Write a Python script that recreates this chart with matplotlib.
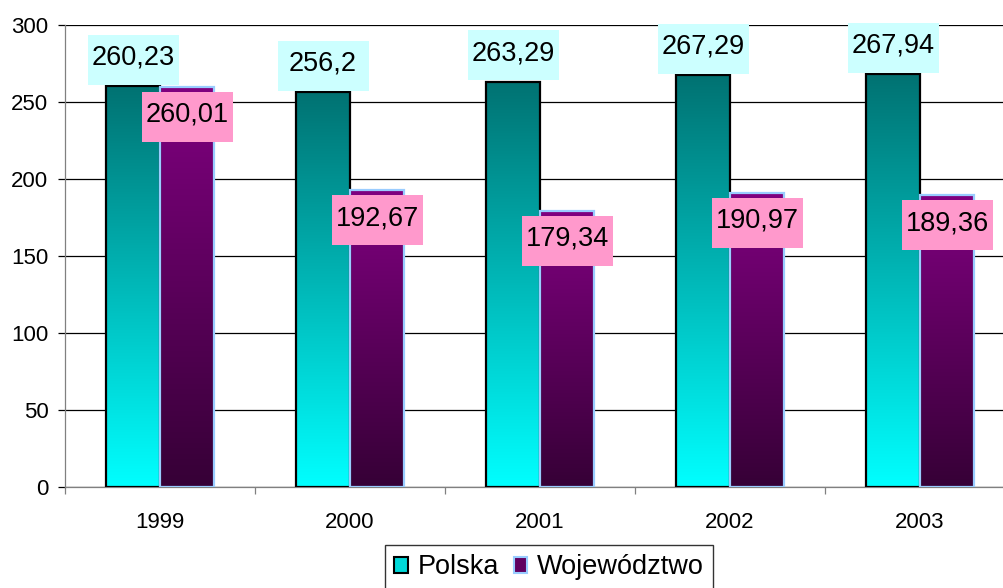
import numpy as np
import matplotlib.pyplot as plt
from matplotlib.colors import LinearSegmentedColormap
from matplotlib.patches import Rectangle, Patch

plt.rcParams['font.family'] = ['Liberation Sans', 'DejaVu Sans']

years = ['1999', '2000', '2001', '2002', '2003']
polska = [260.23, 256.2, 263.29, 267.29, 267.94]
wojewodztwo = [260.01, 192.67, 179.34, 190.97, 189.36]
polska_labels = ['260,23', '256,2', '263,29', '267,29', '267,94']
woj_labels = ['260,01', '192,67', '179,34', '190,97', '189,36']

W, H, DPI = 1004, 588, 100
fig = plt.figure(figsize=(W / DPI, H / DPI), dpi=DPI)
# plot area runs a bit past the right edge of the figure
left, right, top, bottom = 65, 1015, 25, 487
ax = fig.add_axes([left / W, 1 - bottom / H, (right - left) / W, (bottom - top) / H])

ymax = 300
ax.set_xlim(-0.5, len(years) - 0.5)
ax.set_ylim(0, ymax)

# pixel size of one data unit, used for the label boxes
px_x = (right - left) / len(years)
px_y = (bottom - top) / ymax

bar_w = 54 / px_x

cmap_pl = LinearSegmentedColormap.from_list('pl', ['#00ffff', '#007272'])
cmap_woj = LinearSegmentedColormap.from_list('woj', ['#360036', '#800080'])
grad = np.linspace(0, 1, 256).reshape(-1, 1)

def gradient_bar(x0, h, cmap, edge, lw):
    ax.imshow(grad, extent=[x0, x0 + bar_w, 0, h], origin='lower', cmap=cmap,
              aspect='auto', zorder=2, interpolation='bilinear')
    ax.add_patch(Rectangle((x0, 0), bar_w, h, fill=False, edgecolor=edge,
                           linewidth=lw, zorder=3))

for i in range(len(years)):
    gradient_bar(i - bar_w, polska[i], cmap_pl, 'black', 1.6)
    gradient_bar(i, wojewodztwo[i], cmap_woj, '#99ccff', 1.6)

# value labels in filled boxes
box_w, box_h = 91 / px_x, 50 / px_y
for i in range(len(years)):
    cx = i - bar_w / 2
    y0 = polska[i] + 1.5 / px_y
    ax.add_patch(Rectangle((cx - box_w / 2, y0), box_w, box_h, facecolor='#ccffff',
                           edgecolor='none', zorder=5, clip_on=False))
    ax.text(cx, y0 + box_h / 2 + 2 / px_y, polska_labels[i], ha='center', va='center',
            fontsize=19.5, zorder=6)

    cx = i + bar_w / 2
    y1 = wojewodztwo[i] - 5 / px_y
    ax.add_patch(Rectangle((cx - box_w / 2, y1 - box_h), box_w, box_h, facecolor='#ff99cc',
                           edgecolor='none', zorder=5, clip_on=False))
    ax.text(cx, y1 - box_h / 2 + 2 / px_y, woj_labels[i], ha='center', va='center',
            fontsize=19.5, zorder=6)

# axes styling
ax.set_yticks(np.arange(0, ymax + 1, 50))
ax.yaxis.grid(True, color='black', linewidth=0.9)
ax.set_axisbelow(True)
ax.tick_params(axis='y', length=5, width=0.9, color='black', pad=7, labelsize=16)

ax.set_xticks(range(len(years)))
ax.set_xticklabels(years)
ax.set_xticks(np.arange(-0.5, len(years), 1), minor=True)
ax.tick_params(axis='x', which='major', length=0, pad=18, labelsize=16)
ax.tick_params(axis='x', which='minor', length=5, width=0.9, color='#808080')

for side in ['top', 'right']:
    ax.spines[side].set_visible(False)
for side in ['left', 'bottom']:
    ax.spines[side].set_color('#808080')
    ax.spines[side].set_linewidth(0.9)

handles = [Patch(facecolor='#00d8d8', edgecolor='black', linewidth=1.5),
           Patch(facecolor='#600060', edgecolor='#99ccff', linewidth=1.5)]
leg = fig.legend(handles, ['Polska', 'Województwo'], loc='upper left',
                 bbox_to_anchor=(385 / W, 1 - 545 / H), ncol=2, fontsize=19.5,
                 frameon=True, fancybox=False, handlelength=0.5, handleheight=0.5,
                 handletextpad=0.35, columnspacing=0.55, borderpad=0.35,
                 borderaxespad=0)
leg.get_frame().set_edgecolor('black')
leg.get_frame().set_linewidth(1.0)

fig.savefig('out.png', dpi=DPI)
